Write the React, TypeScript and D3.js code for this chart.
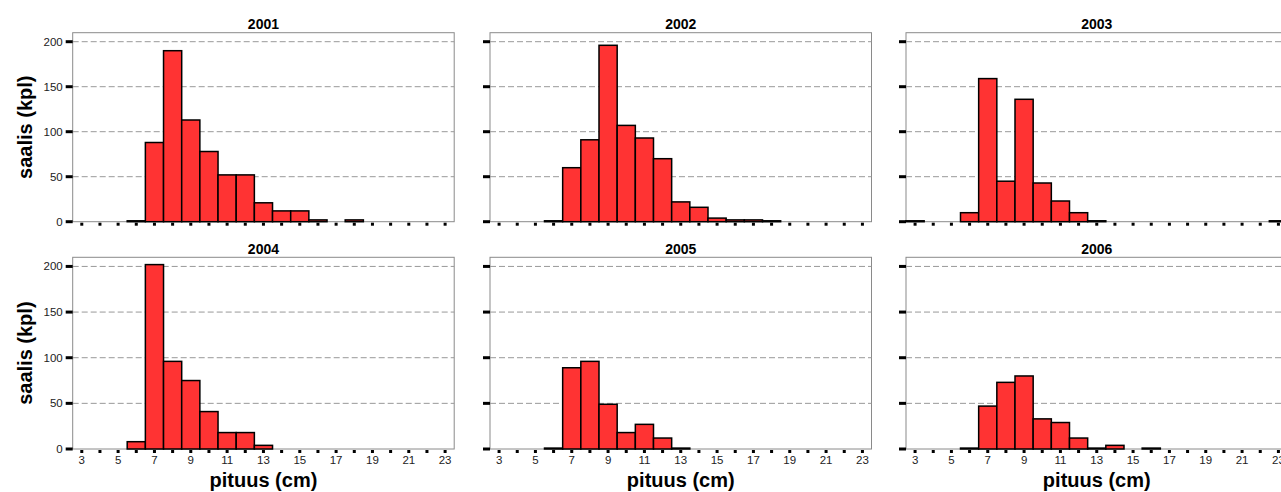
import React from 'react';
import * as d3 from 'd3';

// length classes (cm) and catch per class for each year
const lengths = d3.range(3, 24);
const years = ['2001', '2002', '2003', '2004', '2005', '2006'];
const catch2001 = [0, 0, 0, 1, 88, 190, 113, 78, 52, 52, 21, 12, 12, 2, 0, 2, 0, 0, 0, 0, 0];
const catch2002 = [0, 0, 0, 1, 60, 91, 196, 107, 93, 70, 22, 16, 4, 2, 2, 1, 0, 0, 0, 0, 0];
const catch2003 = [1, 0, 0, 10, 159, 45, 136, 43, 23, 10, 1, 0, 0, 0, 0, 0, 0, 0, 0, 0, 1];
const catch2004 = [0, 0, 0, 8, 202, 96, 75, 41, 18, 18, 4, 0, 0, 0, 0, 0, 0, 0, 0, 0, 0];
const catch2005 = [0, 0, 0, 1, 89, 96, 49, 18, 27, 12, 1, 0, 0, 0, 0, 0, 0, 0, 0, 0, 0];
const catch2006 = [0, 0, 0, 1, 47, 73, 80, 33, 29, 12, 1, 4, 0, 1, 0, 0, 0, 0, 0, 0, 0];
const yTicks = [0, 50, 100, 150, 200];
const xTickLabels = [3, 5, 7, 9, 11, 13, 15, 17, 19, 21, 23];

const series = [catch2001, catch2002, catch2003, catch2004, catch2005, catch2006];

const font = '"Liberation Sans", Arial, sans-serif';
const colLeft = [72.7, 490, 906];
const plotW = 381.5;
const rows = [
  { top: 32.7, bottom: 221.7 },
  { top: 257.3, bottom: 449 },
];

const Panel = ({ idx }: { idx: number }) => {
  const col = idx % 3;
  const row = Math.floor(idx / 3);
  const left = colLeft[col];
  const { top, bottom } = rows[row];
  const x = d3.scaleLinear().domain([2.5, 23.5]).range([left, left + plotW]);
  const y = d3.scaleLinear().domain([0, 210]).range([bottom, top]);
  const values = series[idx];

  return (
    <g>
      <rect x={left} y={top} width={plotW} height={bottom - top} fill="#fff" stroke="#8a8a8a" strokeWidth={1} />
      {yTicks.slice(1).map((t) => (
        <line key={t} x1={left} x2={left + plotW} y1={y(t)} y2={y(t)} stroke="#999" strokeWidth={1} strokeDasharray="6,3" />
      ))}
      {lengths.map((l, i) =>
        values[i] > 0 ? (
          <rect
            key={l}
            x={x(l - 0.5)}
            y={y(values[i])}
            width={x(l + 0.5) - x(l - 0.5)}
            height={y(0) - y(values[i])}
            fill="#ff3333"
            stroke="#000"
            strokeWidth={1.5}
          />
        ) : null
      )}
      {yTicks.map((t) => (
        <line key={t} x1={left - 7} x2={left} y1={y(t)} y2={y(t)} stroke="#000" strokeWidth={3} />
      ))}
      {lengths.map((l) => (
        <rect key={l} x={x(l) - 1.5} y={bottom + 1} width={3} height={3} fill="#000" />
      ))}
      {col === 0 &&
        yTicks.map((t) => (
          <text key={t} x={left - 10} y={y(t)} dy="0.35em" textAnchor="end" fontSize={11.5} fill="#222" fontFamily={font}>
            {t}
          </text>
        ))}
      {row === 1 &&
        xTickLabels.map((t) => (
          <text key={t} x={x(t)} y={bottom + 15} textAnchor="middle" fontSize={11.5} fill="#222" fontFamily={font}>
            {t}
          </text>
        ))}
      <text x={left + plotW / 2} y={top - 3.5} textAnchor="middle" fontSize={14} fontWeight="bold" fontFamily={font}>
        {years[idx]}
      </text>
      {col === 0 && (
        <text
          transform={`translate(25,${(top + bottom) / 2}) rotate(-90)`}
          textAnchor="middle"
          dy="0.35em"
          fontSize={20}
          fontWeight="bold"
          fontFamily={font}
        >
          saalis (kpl)
        </text>
      )}
      {row === 1 && (
        <text x={left + plotW / 2} y={487} textAnchor="middle" fontSize={20} fontWeight="bold" fontFamily={font}>
          pituus (cm)
        </text>
      )}
    </g>
  );
};

const App = () => (
  <svg width={1281} height={492} style={{ position: 'absolute', left: 0, top: 0, background: '#fff' }}>
    {years.map((yr, i) => (
      <Panel key={yr} idx={i} />
    ))}
  </svg>
);

export default App;
